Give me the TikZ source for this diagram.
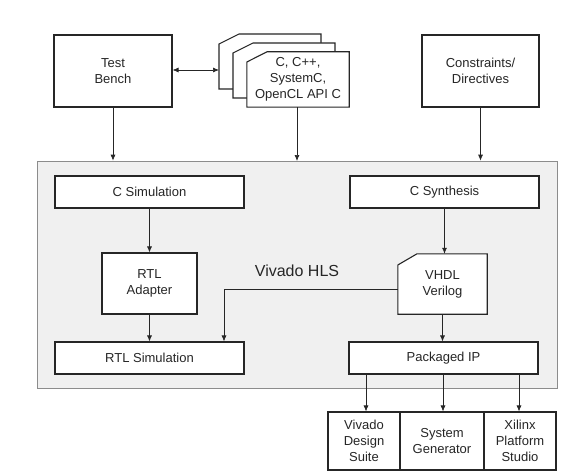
\documentclass[tikz,border=0pt]{standalone}
\usepackage{fontspec}
\setmainfont{Liberation Sans}
\usetikzlibrary{arrows.meta}
\definecolor{hlsgrey}{HTML}{F0F0F0}
\definecolor{hlsedge}{HTML}{8C8C8C}
\definecolor{ink}{HTML}{262626}
\tikzset{
  box/.style={draw=ink, line width=1.1pt, fill=white, rectangle, align=center, inner sep=0pt,
    font=\fontsize{13}{16}\selectfont, text=ink},
  ghost/.style={rectangle, align=center, inner sep=0pt, font=\fontsize{13}{16}\selectfont, text=ink},
  flow/.style={draw=ink, line width=0.7pt, -{Latex[length=6pt,width=5pt]}},
  twoway/.style={draw=ink, line width=0.7pt, {Latex[length=6pt,width=5pt]}-{Latex[length=6pt,width=5pt]}},
  page/.style={draw=ink, line width=1.1pt, fill=white},
}
\begin{document}
\begin{tikzpicture}[x=1pt,y=-1pt]
\useasboundingbox (0,0) rectangle (575,476);
% Vivado HLS container
\node[draw=hlsedge, line width=0.7pt, fill=hlsgrey, minimum width=520pt, minimum height=227pt, inner sep=0pt] (hls) at (297.5,274.5) {};
\node[font=\fontsize{16}{18}\selectfont, text=ink] (hlslabel) at (297,271) {Vivado HLS};

% top inputs
\node[box, minimum width=118pt, minimum height=72pt] (tb) at (113,71) {Test\\Bench};
\node[box, minimum width=117pt, minimum height=72pt] (cons) at (480.5,71) {Constraints/\\Directives};

% stacked source pages
\draw[page] (219,44) -- (239,34) -- (321,34) -- (321,89) -- (219,89) -- cycle;
\draw[page] (233,53) -- (253,43) -- (335,43) -- (335,98) -- (233,98) -- cycle;
\node[ghost, minimum width=102pt, minimum height=55pt] (src) at (298,79.5) {};
\draw[page] (src.south west) -- (src.west |- 0,62) -- (src.north west -| 267,0) -- (src.north east) -- (src.south east) -- cycle;
\node[ghost] (srctext) at (src.center) {C, C++,\\SystemC,\\OpenCL API C};
\coordinate (backpage) at (219,70);

% inside HLS
\node[box, minimum width=189pt, minimum height=32pt] (csim) at (149.5,192) {C Simulation};
\node[box, minimum width=189pt, minimum height=32pt] (csyn) at (444.5,192) {C Synthesis};
\node[box, minimum width=95pt, minimum height=61pt] (adapt) at (149.5,283.5) {RTL\\Adapter};
\node[box, minimum width=189pt, minimum height=32pt] (rtlsim) at (149.5,358) {RTL Simulation};
\node[ghost, minimum width=89pt, minimum height=60pt] (vhdl) at (442.5,284) {};
\draw[page] (vhdl.south west) -- (vhdl.west |- 0,265) -- (vhdl.north west -| 417,0) -- (vhdl.north east) -- (vhdl.south east) -- cycle;
\node[ghost] (vhdltext) at (vhdl.center) {VHDL\\Verilog};
\node[box, minimum width=189pt, minimum height=32pt] (ip) at (443.5,358) {Packaged IP};

% outputs
\node[box, minimum width=72pt, minimum height=58pt] (vds) at (364,441) {Vivado\\Design\\Suite};
\node[box, minimum width=84pt, minimum height=58pt] (sysgen) at (442,441) {System\\Generator};
\node[box, minimum width=72pt, minimum height=58pt] (xps) at (520,441) {Xilinx\\Platform\\Studio};

% connectors
\draw[twoway] (tb.east |- backpage) -- (backpage);
\draw[flow] (tb.south) -- (tb.south |- hls.north);
\draw[flow] (src.south -| 297,0) -- (297,161);
\draw[flow] (cons.south) -- (cons.south |- hls.north);
\draw[flow] (csim.south) -- (adapt.north);
\draw[flow] (adapt.south) -- (adapt.south |- rtlsim.north);
\draw[flow] (csyn.south) -- (csyn.south |- vhdl.north);
\draw[flow] (vhdl.south) -- (vhdl.south |- ip.north);
\draw[flow] (vhdl.west |- 0,289) -- (224,289) -- (224,0 |- rtlsim.north);
\draw[flow] (366,0 |- ip.south) -- (366,0 |- vds.north);
\draw[flow] (443,0 |- ip.south) -- (443,0 |- sysgen.north);
\draw[flow] (519,0 |- ip.south) -- (519,0 |- xps.north);
\end{tikzpicture}
\end{document}
